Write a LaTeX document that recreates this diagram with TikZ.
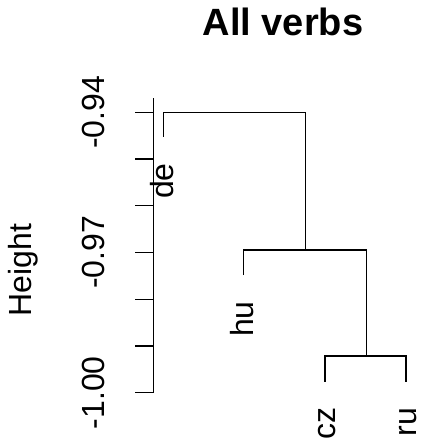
\documentclass[tikz,border=0pt]{standalone}
\usepackage{fontspec}
\setmainfont{Liberation Sans}
\usepackage{tikz}
\tikzset{lbl/.style={font=\fontsize{32}{36}\selectfont, rotate=90, inner sep=0pt},
  tree/.style={line width=1.1pt}}

\begin{document}
\begin{tikzpicture}[x=1pt,y=-1pt]
\useasboundingbox (0,0) rectangle (422,439);
\node[font=\fontsize{38}{44}\selectfont\bfseries, inner sep=0pt] (title) at (283,22) {All verbs};
% axis
\draw[tree] (153.3,98) -- (153.3,392.7);
\foreach \i in {0,...,6}
  \draw[tree] (135,112.3+\i*46.73) -- (153.3,112.3+\i*46.73);
\node[lbl] (t94) at (93,112.3) {-0.94};
\node[lbl] (t97) at (93,252.5) {-0.97};
\node[lbl] (t100) at (93,392.7) {-1.00};
\node[lbl, anchor=base] (ylab) at (31,270) {Height};
% leaves and merges
\coordinate (de) at (163.3,136.7);
\coordinate (hu) at (243.3,275);
\coordinate (cz) at (325,381.7);
\coordinate (ru) at (406,381.7);
\coordinate (m1) at (366.7,356);
\coordinate (m2) at (305.7,250);
\coordinate (m3) at (305.7,112.3);
\draw[tree] (cz) |- (m1) -| (ru);
\draw[tree] (hu) |- (m2) -| (m1);
\draw[tree] (de) |- (m3) -- (m2);
\node[lbl, anchor=base east] (lde) at (173.3,163) {de};
\node[lbl, anchor=base east] (lhu) at (253.3,301) {hu};
\node[lbl, anchor=base east] (lcz) at (335,407.7) {cz};
\node[lbl, anchor=base east] (lru) at (416,407.7) {ru};
\end{tikzpicture}
\end{document}
